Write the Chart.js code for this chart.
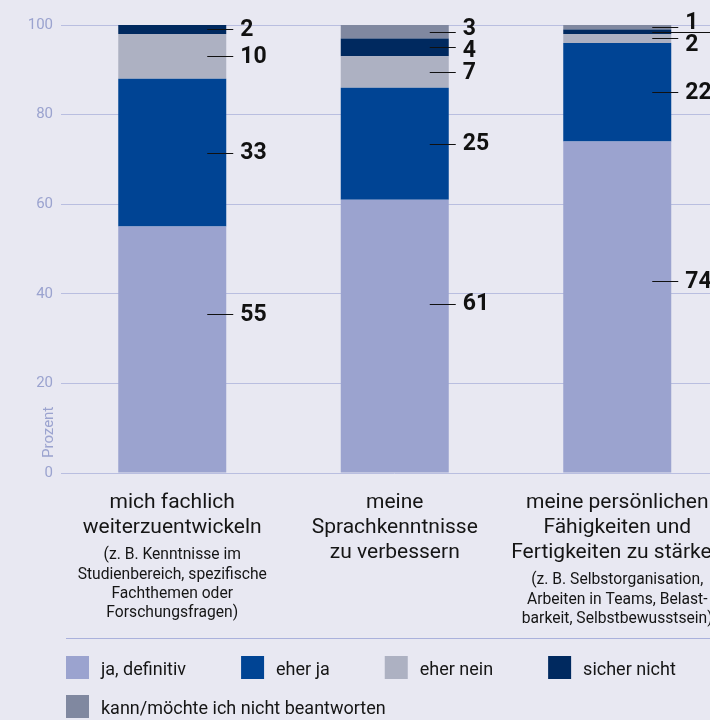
<!DOCTYPE html>
<html lang="de">
<head>
<meta charset="utf-8">
<script src="https://cdn.jsdelivr.net/npm/chart.js@4/dist/chart.umd.min.js"></script>
<style>
  html, body { margin: 0; padding: 0; background: #e8e8f2; overflow: hidden; }
  canvas { display: block; }
</style>
</head>
<body>
<canvas id="chart" width="760" height="720"></canvas>
<script>
// categories (main text + small note below)
const categories = [
  ['mich fachlich', 'weiterzuentwickeln'],
  ['meine', 'Sprachkenntnisse', 'zu verbessern'],
  ['meine persönlichen', 'Fähigkeiten und', 'Fertigkeiten zu stärken']
];
const notes = [
  ['(z. B. Kenntnisse im', 'Studienbereich, spezifische', 'Fachthemen oder', 'Forschungsfragen)'],
  [],
  ['(z. B. Selbstorganisation,', 'Arbeiten in Teams, Belast-', 'barkeit, Selbstbewusstsein)']
];

// series, bottom to top
const seriesNames = ['ja, definitiv', 'eher ja', 'eher nein', 'sicher nicht', 'kann/möchte ich nicht beantworten'];
const jaDefinitiv = [55, 61, 74];
const eherJa = [33, 25, 22];
const eherNein = [10, 7, 2];
const sicherNicht = [2, 4, 1];
const kannNicht = [0, 3, 1];
const seriesValues = [jaDefinitiv, eherJa, eherNein, sicherNicht, kannNicht];
const seriesColors = ['#9ba3cf', '#004494', '#adb1c2', '#00295f', '#8088a0'];

const yTicks = [0, 20, 40, 60, 80, 100];

// draws text squeezed horizontally (the notes use a narrow face)
function narrowText(ctx, text, x, y, f) {
  ctx.save();
  ctx.translate(x, y);
  ctx.scale(f, 1);
  ctx.fillText(text, 0, 0);
  ctx.restore();
}

// üè∑Ô∏è value labels with leader lines
const valueLabels = {
  id: 'valueLabels',
  afterDatasetsDraw(chart) {
    const ctx = chart.ctx;
    const y = chart.scales.y;
    categories.forEach((c, i) => {
      const cx = chart.getDatasetMeta(0).data[i].x;
      let base = 0;
      const items = [];
      seriesValues.forEach((vals, d) => {
        const v = vals[i];
        if (v > 0) {
          // bottom segment label sits higher than its middle in the original
          const anchor = d === 0 ? 0.39 * v + 14 : base + v / 2;
          const ly = y.getPixelForValue(anchor);
          items.push({ v: v, ly: ly, ty: ly, long: false });
        }
        base += v;
      });
      items.reverse(); // top to bottom

      let lastNormal = null;
      items.forEach(it => {
        if (lastNormal && !lastNormal.hadLong && it.ly - lastNormal.ly < 8) {
          it.long = true;
          lastNormal.hadLong = true;
          return;
        }
        if (lastNormal && it.ty - lastNormal.ty < 16) {
          const need = 22 - (it.ty - lastNormal.ty);
          lastNormal.ty -= need / 2;
          it.ty += need / 2;
        }
        lastNormal = it;
      });

      ctx.save();
      ctx.strokeStyle = '#111';
      ctx.lineWidth = 1;
      ctx.fillStyle = '#111';
      ctx.font = 'bold 23px Roboto, sans-serif';
      ctx.textBaseline = 'middle';
      ctx.textAlign = 'left';
      items.forEach(it => {
        const end = it.long ? 105 : 61;
        const ly = Math.round(it.ly) + 0.5;
        ctx.beginPath();
        ctx.moveTo(cx + 35, ly);
        ctx.lineTo(cx + end, ly);
        ctx.stroke();
        ctx.fillText(String(it.v), cx + end + 7, it.ty + 1);
      });
      ctx.restore();
    });
  }
};

// üìù category texts, axis title, legend
const extras = {
  id: 'extras',
  afterDraw(chart) {
    const ctx = chart.ctx;
    ctx.save();
    ctx.fillStyle = '#151515';
    ctx.textAlign = 'center';
    ctx.textBaseline = 'middle';
    categories.forEach((lines, i) => {
      const cx = chart.getDatasetMeta(0).data[i].x;
      let ty = 503;
      ctx.font = '21px Roboto, sans-serif';
      lines.forEach((l, k) => {
        ctx.fillText(l, cx, ty + k * 25);
      });
      ty += (lines.length - 1) * 25 + 27;
      ctx.font = '17px Roboto, sans-serif';
      notes[i].forEach((l, k) => {
        narrowText(ctx, l, cx, ty + k * 19.3, 0.92);
      });
    });

    // y axis title
    ctx.save();
    ctx.translate(49, 458);
    ctx.rotate(-Math.PI / 2);
    ctx.textAlign = 'left';
    ctx.fillStyle = '#9ba3cf';
    ctx.font = '15px Roboto, sans-serif';
    ctx.fillText('Prozent', 0, 0);
    ctx.restore();

    // separator
    ctx.strokeStyle = '#aab1dc';
    ctx.lineWidth = 1;
    ctx.beginPath();
    ctx.moveTo(66, 638.5);
    ctx.lineTo(chart.width, 638.5);
    ctx.stroke();

    // legend
    ctx.font = '18px Roboto, sans-serif';
    ctx.textAlign = 'left';
    let lx = 66, ly = 656;
    seriesNames.forEach((name, d) => {
      const w = ctx.measureText(name).width;
      if (lx + 35 + w > 710) {
        lx = 66;
        ly += 39;
      }
      ctx.fillStyle = seriesColors[d];
      ctx.fillRect(lx, ly, 23, 23);
      ctx.fillStyle = '#151515';
      ctx.fillText(name, lx + 35, ly + 14);
      lx += 35 + w + 55;
    });
    ctx.restore();
  }
};

new Chart(document.getElementById('chart'), {
  type: 'bar',
  data: {
    labels: categories.map(c => c.join(' ')),
    datasets: seriesNames.map((name, d) => ({
      label: name,
      data: seriesValues[d],
      backgroundColor: seriesColors[d],
      borderWidth: 0,
      barPercentage: 0.4854,
      categoryPercentage: 1
    }))
  },
  options: {
    responsive: false,
    animation: false,
    devicePixelRatio: 1,
    layout: { padding: { left: 0, top: 25, right: 31.5, bottom: 247 } },
    plugins: {
      legend: { display: false },
      tooltip: { enabled: false }
    },
    scales: {
      x: {
        stacked: true,
        display: false
      },
      y: {
        stacked: true,
        min: 0,
        max: 100,
        afterFit: function(scale) { scale.width = 61; },
        afterBuildTicks: function(scale) { scale.ticks = yTicks.map(v => ({ value: v })); },
        border: { display: false },
        grid: { color: '#b9bee0', drawTicks: false, lineWidth: 1 },
        ticks: {
          padding: 8,
          color: '#9ba3cf',
          font: { family: 'Roboto', size: 15 }
        }
      }
    }
  },
  plugins: [valueLabels, extras]
});
</script>
</body>
</html>
